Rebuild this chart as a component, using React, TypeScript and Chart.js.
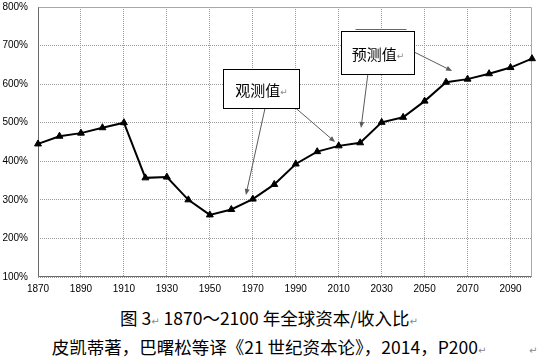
import React, { useEffect, useRef } from 'react';
import { Chart, registerables } from 'chart.js';

Chart.register(...registerables);

// ---- data ----
const YEARS = [1870, 1880, 1890, 1900, 1910, 1920, 1930, 1940, 1950, 1960, 1970, 1980, 1990, 2000, 2010, 2020, 2030, 2040, 2050, 2060, 2070, 2080, 2090, 2100];
const RATIO = [445, 465, 473, 487, 500, 357, 359, 300, 261, 275, 302, 340, 393, 425, 440, 448, 501, 514, 556, 605, 613, 627, 643, 666];
const X_TICKS = [1870, 1890, 1910, 1930, 1950, 1970, 1990, 2010, 2030, 2050, 2070, 2090];
const X_MIN = 1870;
const X_MAX = 2100;
const Y_MIN = 100;
const Y_MAX = 800;
const Y_STEP = 100;

const OBS_LABEL = '观测值';
const PRED_LABEL = '预测值';
const RET = '↵';
const CAPTION_1A = '图 3';
const CAPTION_1B = ' 1870～2100 年全球资本/收入比';
const CAPTION_2 = '皮凯蒂著，巴曙松等译《21 世纪资本论》，2014，P200';

// annotation boxes (data coordinates: year / percent)
const BOXES = [
  { label: OBS_LABEL, x0: 1956.3, x1: 1991.7, y0: 638.5, y1: 537.4 },
  { label: PRED_LABEL, x0: 2010.9, x1: 2045.1, y0: 738.6, y1: 626.3 },
];
// arrows: from -> to (data coordinates)
const ARROWS = [
  { fx: 1975.7, fy: 537.4, tx: 1966.8, ty: 312.6 },
  { fx: 1990.1, fy: 537.4, tx: 2008.3, ty: 450 },
  { fx: 2023.6, fy: 626.3, tx: 2020.4, ty: 486.3 },
  { fx: 2045.1, fy: 683.3, tx: 2062.8, ty: 634.1 },
];

const CJK = '"Noto Sans CJK SC", "DejaVu Sans", sans-serif';
const LATIN = '"Liberation Sans", Arial, sans-serif';

const framePlugin = {
  id: 'frame',
  beforeDatasetsDraw(chart: any) {
    const { ctx, chartArea: a } = chart;
    ctx.save();
    ctx.lineWidth = 1;
    const l = Math.round(a.left) + 0.5;
    const r = Math.round(a.right) - 0.5;
    const t = Math.round(a.top) + 0.5;
    const b = Math.round(a.bottom) - 0.5;
    ctx.strokeStyle = '#a8a8a8';
    ctx.beginPath();
    ctx.moveTo(l, t);
    ctx.lineTo(r, t);
    ctx.lineTo(r, b);
    ctx.stroke();
    ctx.strokeStyle = '#6a6a6a';
    ctx.beginPath();
    ctx.moveTo(l, t);
    ctx.lineTo(l, b);
    ctx.lineTo(r, b);
    ctx.stroke();
    ctx.restore();
  },
};

const annotationPlugin = {
  id: 'annot',
  afterDraw(chart: any) {
    const { ctx } = chart;
    const xs = chart.scales.x;
    const ys = chart.scales.y;
    const px = (v: number) => xs.getPixelForValue(v);
    const py = (v: number) => ys.getPixelForValue(v);
    ctx.save();
    // arrows
    ctx.strokeStyle = '#5a5a5a';
    ctx.fillStyle = '#5a5a5a';
    ctx.lineWidth = 1;
    ARROWS.forEach((ar) => {
      const x0 = px(ar.fx), y0 = py(ar.fy), x1 = px(ar.tx), y1 = py(ar.ty);
      const ang = Math.atan2(y1 - y0, x1 - x0);
      const hl = 6, hw = 2.5;
      ctx.beginPath();
      ctx.moveTo(x0, y0);
      ctx.lineTo(x1 - Math.cos(ang) * hl * 0.8, y1 - Math.sin(ang) * hl * 0.8);
      ctx.stroke();
      ctx.beginPath();
      ctx.moveTo(x1, y1);
      ctx.lineTo(x1 - Math.cos(ang) * hl + Math.sin(ang) * hw, y1 - Math.sin(ang) * hl - Math.cos(ang) * hw);
      ctx.lineTo(x1 - Math.cos(ang) * hl - Math.sin(ang) * hw, y1 - Math.sin(ang) * hl + Math.cos(ang) * hw);
      ctx.closePath();
      ctx.fill();
    });
    // boxes
    BOXES.forEach((b, i) => {
      const x0 = Math.round(px(b.x0)) + 0.5;
      const x1 = Math.round(px(b.x1)) + 0.5;
      const y0 = Math.round(py(b.y0)) + 0.5;
      const y1 = Math.round(py(b.y1)) + 0.5;
      ctx.fillStyle = '#ffffff';
      ctx.fillRect(x0, y0, x1 - x0, y1 - y0);
      ctx.strokeStyle = '#000000';
      ctx.lineWidth = 1;
      ctx.strokeRect(x0, y0, x1 - x0, y1 - y0);
      if (i === 1) {
        ctx.lineWidth = 1;
        ctx.strokeStyle = '#666';
        ctx.beginPath();
        ctx.moveTo(x0 + 14, y0 - 2);
        ctx.lineTo(x1 - 8, y0 - 2);
        ctx.stroke();
      }
      ctx.font = `15px ${CJK}`;
      ctx.textBaseline = 'middle';
      const w = ctx.measureText(b.label).width;
      ctx.font = `9px ${CJK}`;
      const rw = ctx.measureText(RET).width;
      const cx = (x0 + x1) / 2;
      const cy = (y0 + y1) / 2 + 1;
      const start = cx - (w + rw) / 2;
      ctx.font = `15px ${CJK}`;
      ctx.fillStyle = '#000';
      ctx.textAlign = 'left';
      ctx.fillText(b.label, start, cy);
      ctx.font = `9px ${CJK}`;
      ctx.fillStyle = '#888';
      ctx.fillText(RET, start + w, cy + 2);
    });
    ctx.restore();
  },
};

function ChartView() {
  const ref = useRef<HTMLCanvasElement>(null);
  useEffect(() => {
    if (!ref.current) return;
    const chart = new Chart(ref.current, {
      type: 'line',
      data: {
        datasets: [
          {
            data: YEARS.map((yr, i) => ({ x: yr, y: RATIO[i] })),
            borderColor: '#000',
            backgroundColor: '#000',
            borderWidth: 2,
            pointStyle: 'triangle',
            pointRadius: 4,
            pointBorderWidth: 1,
            pointBackgroundColor: '#000',
            pointBorderColor: '#000',
            tension: 0,
            clip: false as any,
          },
        ],
      },
      options: {
        responsive: false,
        animation: false,
        devicePixelRatio: 1,
        layout: { padding: { top: 0, right: 6, left: 0, bottom: 0 } },
        plugins: { legend: { display: false }, tooltip: { enabled: false } },
        scales: {
          x: {
            type: 'linear',
            min: X_MIN,
            max: X_MAX,
            afterBuildTicks: (s: any) => {
              s.ticks = X_TICKS.map((v) => ({ value: v }));
            },
            afterFit: (s: any) => {
              s.height = 23;
            },
            ticks: {
              autoSkip: false,
              maxRotation: 0,
              padding: 6,
              color: '#000',
              font: { family: LATIN, size: 10 },
              callback: (v: any) => String(v),
            },
            grid: { color: '#9a9a9a', lineWidth: 1, drawTicks: false },
            border: { display: false, dash: [1, 1] },
          },
          y: {
            min: Y_MIN,
            max: Y_MAX,
            afterFit: (s: any) => {
              s.width = 38;
            },
            ticks: {
              stepSize: Y_STEP,
              padding: 10,
              color: '#000',
              font: { family: LATIN, size: 10 },
              callback: (v: any) => `${v}%`,
            },
            grid: { color: '#9a9a9a', lineWidth: 1, drawTicks: false },
            border: { display: false, dash: [1, 1] },
          },
        },
      },
      plugins: [framePlugin, annotationPlugin],
    });
    return () => chart.destroy();
  }, []);
  // the y-axis reserves 16px above the plot; shift up so the plot top sits at 7px
  return <canvas ref={ref} width={538} height={309} style={{ display: 'block', width: 538, height: 309, marginTop: -9 }} />;
}

const Ret = () => <span style={{ fontSize: 10, color: '#888' }}>{RET}</span>;

export default function App() {
  return (
    <div style={{ position: 'absolute', left: 0, top: 0, width: 538, height: 357, background: '#fff', overflow: 'hidden' }}>
      <ChartView />
      <div
        style={{
          position: 'absolute',
          left: 0,
          top: 305,
          width: 538,
          textAlign: 'center',
          fontFamily: CJK,
          fontSize: 17.5,
          lineHeight: '26px',
          color: '#000',
          whiteSpace: 'nowrap',
        }}
      >
        <div>
          {CAPTION_1A}
          <Ret />
          {CAPTION_1B}
          <Ret />
        </div>
        <div>
          {CAPTION_2}
          <Ret />
        </div>
      </div>
      <div style={{ position: 'absolute', left: 529, top: 344, fontFamily: CJK, fontSize: 10, color: '#888', lineHeight: '12px' }}>{RET}</div>
    </div>
  );
}
